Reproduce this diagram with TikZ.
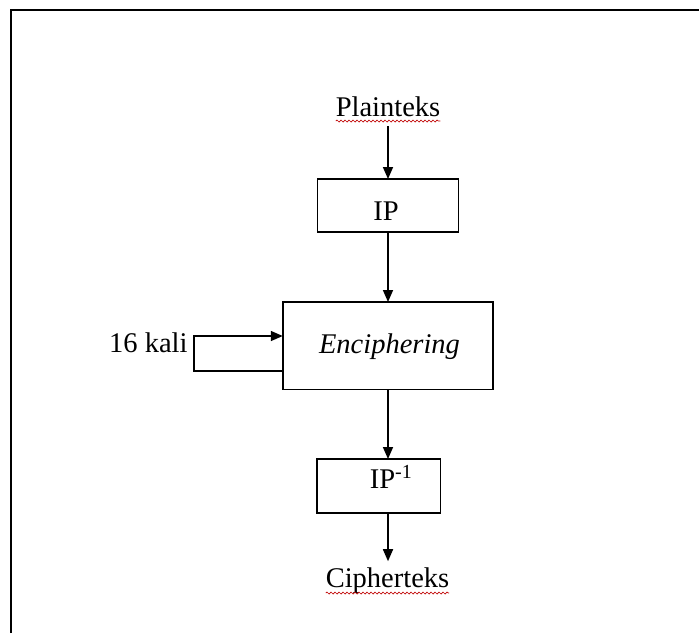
\documentclass[tikz,border=0pt]{standalone}
\usepackage{fontspec}
\setmainfont{Liberation Serif}
\usetikzlibrary{arrows.meta,decorations.pathmorphing}
\begin{document}
\begin{tikzpicture}[x=1pt,y=-1pt,
  box/.style={draw,line width=1.7pt,inner sep=0pt,outer sep=0pt},
  lbl/.style={anchor=base,font=\fontsize{28.5}{30}\selectfont,inner sep=0pt,outer sep=0pt},
  conn/.style={line width=1.6pt,-{Triangle[length=12pt,width=10pt]}},
  squig/.style={red!75!black,line width=0.7pt,decorate,decoration={snake,amplitude=1pt,segment length=4pt}}]
\useasboundingbox (0,0) rectangle (699,633);
\draw[line width=2.8pt] (11,633) -- (11,10) -- (699,10);
% boxes
\node[box,minimum width=141pt,minimum height=53pt] (ip) at (388,205.5) {};
\node[box,minimum width=210.5pt,minimum height=87.6pt] (enc) at (388,345.8) {};
\node[box,minimum width=123.5pt,minimum height=54pt] (ipinv) at (378.75,486) {};
% texts
\node[lbl] (plain) at (388,116) {Plainteks};
\node[lbl] (iptxt) at (386,220) {IP};
\node[lbl,font=\fontsize{28.5}{30}\selectfont\itshape] (enctxt) at (389.5,353) {Enciphering};
\node[lbl] (kali) at (148.4,352) {16 kali};
\node[lbl] (ipinvtxt) at (391,488) {IP\textsuperscript{-1}};
\node[lbl] (ct) at (387.5,587) {Cipherteks};
% spell-check squiggles
\draw[squig] ([yshift=-5pt]plain.base west) -- ([yshift=-5pt]plain.base east);
\draw[squig] ([yshift=-6pt]ct.base west) -- ([yshift=-6pt]ct.base east);
% connectors
\coordinate (p0) at ([yshift=-10pt]plain.base);
\draw[conn] (p0) -- (p0 |- ip.north);
\draw[conn] (ip.south) -- (ip.south |- enc.north);
\draw[conn] (enc.south) -- (enc.south |- ipinv.north);
\coordinate (c0) at ([yshift=6pt]ct.north);
\draw[conn] (enc.south |- ipinv.south) -- (enc.south |- c0);
% loop
\coordinate (lt) at (194,336);
\coordinate (lb) at (194,371);
\draw[conn] (enc.west |- lb) -- (lb) -- (lt) -- (enc.west |- lt);
\end{tikzpicture}
\end{document}
